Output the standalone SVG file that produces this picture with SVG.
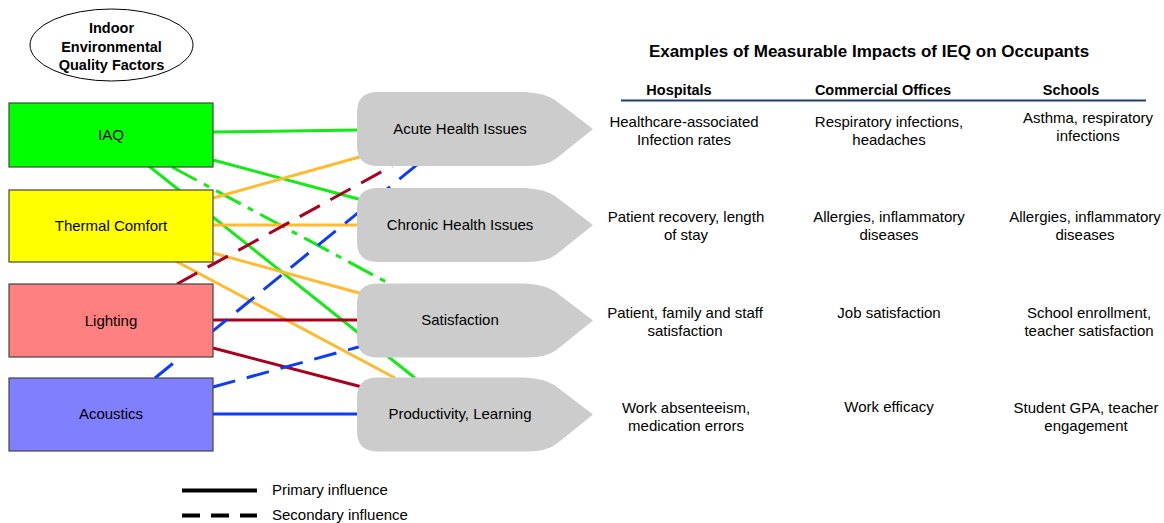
<svg xmlns="http://www.w3.org/2000/svg" width="1164" height="523" viewBox="0 0 1164 523">
<defs>
<style>
text{font-family:"Liberation Sans",Arial,Helvetica,sans-serif;fill:#000;}
.t{font-size:15px;text-anchor:middle;}
.b{font-weight:bold;text-anchor:middle;}
.box{stroke:#444;stroke-width:1.2;}
.ln{fill:none;stroke-width:3;}
.g{stroke:#14ea14;}
.o{stroke:#ffba30;}
.r{stroke:#a8001e;}
.bl{stroke:#0a3cff;}
.d{stroke-dasharray:23 12;}
.dd{stroke-dasharray:28 8 6 8;}
.imp{fill:#cccccc;}
</style>
<path id="arrowShape" d="M378,-37 L525,-37 Q545,-36 555,-29 L593,0 L557,29 Q547,37 527,37 L378,37 Q357,37 357,17 L357,-17 Q357,-37 378,-37 Z"/>
</defs>
<rect width="1164" height="523" fill="#fff"/>

<g id="title-ellipse">
<ellipse cx="111.5" cy="45" rx="81.5" ry="36" fill="#fff" stroke="#000" stroke-width="1"/>
<text class="b" x="111.5" y="33" font-size="14.5">Indoor</text>
<text class="b" x="111.5" y="52" font-size="14.5">Environmental</text>
<text class="b" x="111.5" y="70" font-size="14.5">Quality Factors</text>
</g>

<g id="connectors">
<line class="ln g" x1="213" y1="132" x2="358" y2="130"/>
<line class="ln g" x1="213" y1="160" x2="362" y2="200"/>
<line class="ln g" x1="145" y1="163" x2="415" y2="378"/>
<line class="ln g dd" x1="172" y1="167" x2="390" y2="284"/>
<line class="ln o" x1="213" y1="198" x2="363" y2="156"/>
<line class="ln o" x1="213" y1="225" x2="358" y2="225"/>
<line class="ln o" x1="213" y1="253" x2="363" y2="294"/>
<line class="ln o" x1="170" y1="258" x2="395" y2="378"/>
<line class="ln r" x1="213" y1="320" x2="358" y2="320"/>
<line class="ln r" x1="213" y1="348" x2="362" y2="387"/>
<line class="ln r d" x1="177" y1="284" x2="392" y2="166"/>
<line class="ln bl" x1="213" y1="414" x2="358" y2="414"/>
<line class="ln bl d" x1="213" y1="387" x2="362" y2="346"/>
<line class="ln bl d" x1="155" y1="378" x2="418" y2="164"/>
</g>

<g id="node-iaq">
<rect class="box" x="9" y="103" width="204" height="64" fill="#00ff00" stroke="#3a5a7a"/>
<text class="t" x="111" y="140">IAQ</text>
</g>
<g id="node-thermal">
<rect class="box" x="9" y="190" width="204" height="72" fill="#ffff00"/>
<text class="t" x="111" y="231">Thermal Comfort</text>
</g>
<g id="node-lighting">
<rect class="box" x="9" y="284" width="204" height="73" fill="#ff8080"/>
<text class="t" x="111" y="326">Lighting</text>
</g>
<g id="node-acoustics">
<rect class="box" x="9" y="378" width="204" height="73" fill="#8080ff"/>
<text class="t" x="111" y="419">Acoustics</text>
</g>

<g id="node-acute">
<use href="#arrowShape" class="imp" transform="translate(0,129)"/>
<text class="t" x="460" y="134">Acute Health Issues</text>
</g>
<g id="node-chronic">
<use href="#arrowShape" class="imp" transform="translate(0,225)"/>
<text class="t" x="460" y="230">Chronic Health Issues</text>
</g>
<g id="node-satisfaction">
<use href="#arrowShape" class="imp" transform="translate(0,320.5)"/>
<text class="t" x="460" y="325">Satisfaction</text>
</g>
<g id="node-productivity">
<use href="#arrowShape" class="imp" transform="translate(0,414.5)"/>
<text class="t" x="460" y="419">Productivity, Learning</text>
</g>

<g id="table">
<text class="b" x="869" y="57" font-size="17">Examples of Measurable Impacts of IEQ on Occupants</text>
<text class="b" x="679" y="95" font-size="14.5">Hospitals</text>
<text class="b" x="883" y="95" font-size="14.5">Commercial Offices</text>
<text class="b" x="1071" y="95" font-size="14.5">Schools</text>
<line x1="621" y1="100.5" x2="1146" y2="100.5" stroke="#1f3f6f" stroke-width="2"/>

<text class="t" x="684" y="127">Healthcare-associated</text>
<text class="t" x="684" y="145">Infection rates</text>
<text class="t" x="889" y="127">Respiratory infections,</text>
<text class="t" x="889" y="145">headaches</text>
<text class="t" x="1088" y="123">Asthma, respiratory</text>
<text class="t" x="1088" y="141">infections</text>

<text class="t" x="686" y="222">Patient recovery, length</text>
<text class="t" x="686" y="240">of stay</text>
<text class="t" x="889" y="222">Allergies, inflammatory</text>
<text class="t" x="889" y="240">diseases</text>
<text class="t" x="1085" y="222">Allergies, inflammatory</text>
<text class="t" x="1085" y="240">diseases</text>

<text class="t" x="685" y="318">Patient, family and staff</text>
<text class="t" x="685" y="336">satisfaction</text>
<text class="t" x="889" y="318">Job satisfaction</text>
<text class="t" x="1089" y="318">School enrollment,</text>
<text class="t" x="1089" y="336">teacher satisfaction</text>

<text class="t" x="686" y="413">Work absenteeism,</text>
<text class="t" x="686" y="431">medication errors</text>
<text class="t" x="889" y="412">Work efficacy</text>
<text class="t" x="1086" y="413">Student GPA, teacher</text>
<text class="t" x="1086" y="431">engagement</text>
</g>

<g id="legend">
<line x1="182" y1="490.5" x2="257" y2="490.5" stroke="#000" stroke-width="4"/>
<line x1="182" y1="515.5" x2="257" y2="515.5" stroke="#000" stroke-width="4" stroke-dasharray="18 11"/>
<text x="272" y="495" font-size="15">Primary influence</text>
<text x="272" y="520" font-size="15">Secondary influence</text>
</g>
</svg>
